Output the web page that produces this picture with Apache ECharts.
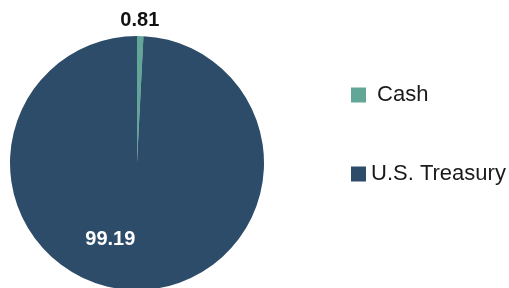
<!DOCTYPE html>
<html>
<head>
<meta charset="utf-8">
<script src="https://cdn.jsdelivr.net/npm/echarts@6/dist/echarts.min.js"></script>
<style>
  html, body { margin: 0; padding: 0; background: #fff; }
  #main { width: 509px; height: 288px; }
</style>
</head>
<body>
<div id="main"></div>
<script>
// holdings
const categories = ["Cash", "U.S. Treasury"];
const values = [0.81, 99.19];
const colors = ["#62a698", "#2c4c69"];

const chart = echarts.init(document.getElementById("main"));

const data = categories.map((name, i) => ({
  name: name,
  value: values[i],
  itemStyle: { color: colors[i] },
  label: i === 0
    ? { position: "outside", color: "#111", offset: [-25, -12] }
    : { position: "inside", color: "#fff", offset: [-25, 10] },
}));

const option = {
  animation: false,
  legend: {
    orient: "vertical",
    left: 351,
    top: 84,
    padding: 0,
    itemWidth: 15,
    itemHeight: 15,
    itemGap: 57,
    icon: "rect",
    data: categories,
    formatter: (n) => (n === "Cash" ? " " + n : n),
    textStyle: {
      fontFamily: "Liberation Sans",
      fontSize: 22,
      color: "#1a1a1a",
      padding: [0, 0, 8, 0],
    },
  },
  series: [
    {
      type: "pie",
      center: [137, 163],
      radius: [0, 127],
      startAngle: 90,
      clockwise: true,
      data: data,
      label: {
        show: true,
        fontFamily: "Liberation Sans",
        fontSize: 20,
        fontWeight: "bold",
        formatter: (p) => p.value.toFixed(2),
      },
      labelLine: { show: false, length: 4, length2: 0 },
      emphasis: { disabled: true },
    },
  ],
};

chart.setOption(option);
</script>
</body>
</html>
